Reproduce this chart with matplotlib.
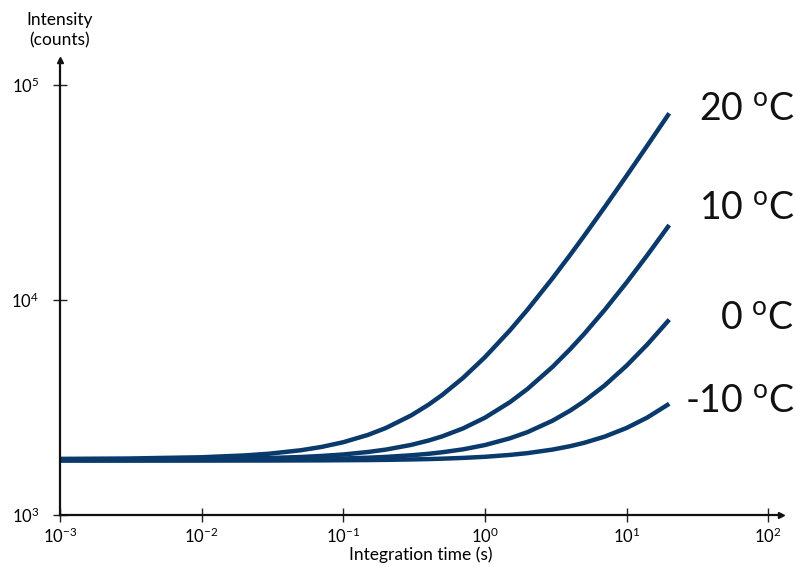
import matplotlib.pyplot as plt
from matplotlib.ticker import FixedLocator, NullLocator

plt.rcParams["font.family"] = ["Lato", "DejaVu Sans"]
plt.rcParams["mathtext.default"] = "regular"

# integration time (s)
t = [0.001, 0.003, 0.01, 0.02, 0.03, 0.05, 0.07, 0.1, 0.15, 0.2, 0.3, 0.4,
     0.5, 0.7, 1, 1.5, 2, 3, 4, 5, 7, 10, 14, 20]

# intensity (counts)
i_20 = [1824, 1831, 1856, 1892, 1928, 2000, 2072, 2180, 2360, 2540, 2900, 3260,
        3620, 4340, 5420, 7220, 9020, 12620, 16220, 19820, 27020, 37820, 52220, 73820]
i_10 = [1811, 1813, 1820, 1831, 1841, 1861, 1882, 1912, 1964, 2015, 2117, 2220,
        2322, 2527, 2835, 3347, 3860, 4885, 5910, 6935, 8985, 12060, 16160, 22310]
i_0 = [1800, 1801, 1803, 1806, 1809, 1816, 1822, 1832, 1847, 1863, 1895, 1926,
       1958, 2020, 2115, 2273, 2430, 2745, 3060, 3375, 4005, 4950, 6210, 8100]
i_m10 = [1790, 1790, 1791, 1792, 1792, 1794, 1795, 1798, 1801, 1805, 1813, 1820,
         1828, 1843, 1865, 1903, 1940, 2015, 2090, 2165, 2315, 2540, 2840, 3290]

labels = ["20 $^{o}$C", "10 $^{o}$C", "0 $^{o}$C", "-10 $^{o}$C"]
label_dy = [3, 12, 1, 2]  # small vertical nudges of the labels (points)

x_ticks = [1e-3, 1e-2, 1e-1, 1e0, 1e1, 1e2]
x_ticklabels = ["10$^{-3}$", "10$^{-2}$", "10$^{-1}$", "10$^{0}$", "10$^{1}$", "10$^{2}$"]
y_ticks = [1e3, 1e4, 1e5]
y_ticklabels = ["10$^{3}$", "10$^{4}$", "10$^{5}$"]

COLOR = "#0a3a6c"

fig = plt.figure(figsize=(7.95, 5.67), dpi=100)
W, H = 795, 567
ax = fig.add_axes([60 / W, 52 / H, (781 - 60) / W, (515 - 60) / H])

for ys, lab, dy in zip([i_20, i_10, i_0, i_m10], labels, label_dy):
    ax.plot(t, ys, color=COLOR, linewidth=3.2, solid_capstyle="butt")
    ax.annotate(lab, xy=(t[-1], ys[-1]), xytext=(90, dy), textcoords="offset points",
                ha="right", va="center", fontsize=27, color="#111111",
                annotation_clip=False)

ax.set_xscale("log")
ax.set_yscale("log")
ax.set_xlim(1e-3, 10 ** 2.09)
ax.set_ylim(1e3, 10 ** 5.116)

ax.xaxis.set_major_locator(FixedLocator(x_ticks))
ax.yaxis.set_major_locator(FixedLocator(y_ticks))
ax.xaxis.set_minor_locator(NullLocator())
ax.yaxis.set_minor_locator(NullLocator())
ax.set_xticklabels(x_ticklabels)
ax.set_yticklabels(y_ticklabels)
ax.tick_params(axis="both", direction="inout", length=10, width=1.0, labelsize=12, color="#222222")
ax.tick_params(axis="x", pad=3)
ax.tick_params(axis="y", pad=10)

for side in ["top", "right"]:
    ax.spines[side].set_visible(False)
for side in ["left", "bottom"]:
    ax.spines[side].set_linewidth(1.6)
    ax.spines[side].set_color("#111111")

# arrow heads at the ends of the axes
ax.plot(1, 0, ">", color="#111111", markersize=5, transform=ax.transAxes, clip_on=False)
ax.plot(0, 1, "^", color="#111111", markersize=5, transform=ax.transAxes, clip_on=False)

ax.set_xlabel("Integration time (s)", fontsize=12.5, labelpad=1)
ax.text(0, 1.025, "Intensity\n(counts)", transform=ax.transAxes, ha="center", va="bottom",
        fontsize=12.5, linespacing=1.35)

fig.savefig("out.png", dpi=100)
